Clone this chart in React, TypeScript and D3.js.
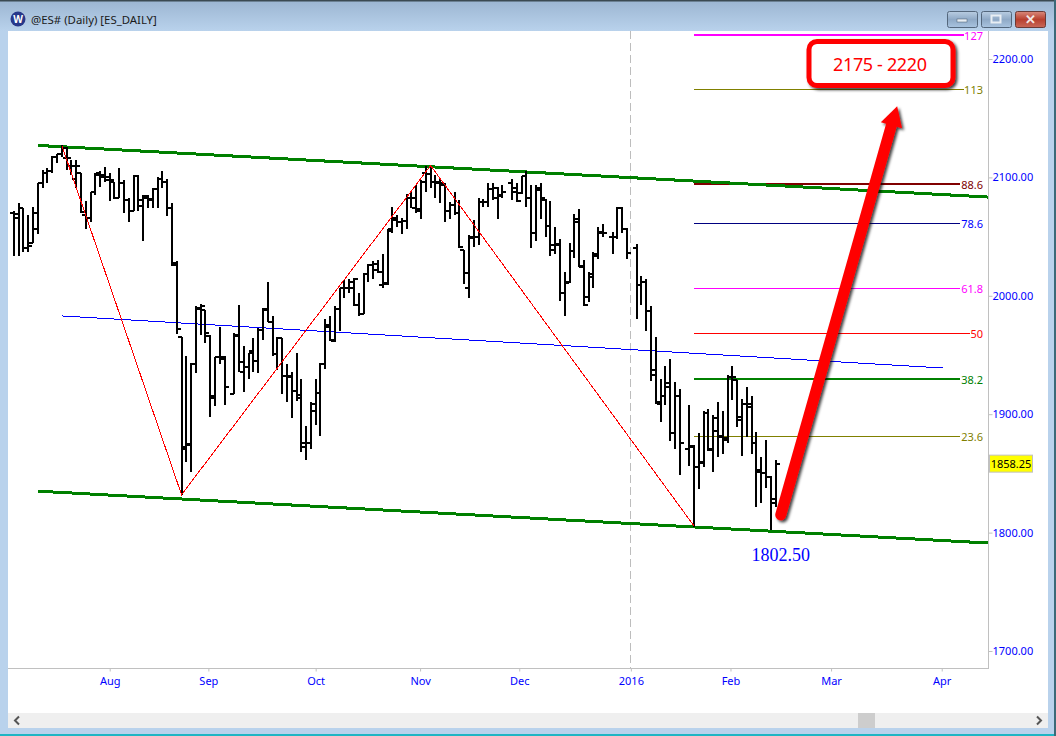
import React, { useRef, useEffect } from 'react';
import * as d3 from 'd3';

// daily ES bars, one slot per session, null = no session (holiday)
const opens = [
  2070,2069,2074,2040,2045,2056,2095,2104,2105,2117,
  2120,2116,2110,2099,2104,2068,2066,2088,2104,2100,
  2098,2096,2083,2095,2081,2072,2101,2081,2083,2082,
  2090,2099,2096,2074,2026,1965,1872,1875,1942,1990,
  1988,1966,1914,1948,1948,null,
  1917,1967,1936,1940,
  1953,1945,1971,1988,1978,1951,1964,1932,1932,1920,
  1916,1876,1876,1903,1918,1942,1974,1962,1989,2007,
  2007,2012,1992,1985,2018,2026,2022,2009,2011,2056,
  2064,2062,2063,2083,2074,2072,2104,2103,2096,2096,
  2094,2072,2077,2070,2039,2007,2049,2050,2079,2079,
  2090,2083,2085,null,
  2095,2088,2087,2101,2083,2053,2091,2081,2059,2039,2044,2002,2012,2038,2062,2025,1999,2018,2034,2053,null,
  2050,2050,2074,2056,null,
  2040,2009,2012,1987,1933,1909,1915,1923,1884,1915,null,
  1871,1872,1855,1859,1901,1871,1886,1882,1878,1931,1929,1895,1909,1906,1876,1851,1850,1847,1828,
];
const highs = [
  2072,2078,2074,2068,2075,2095,2106,2108,2118,2120,
  2127,2126,2115,2115,2104,2080,2088,2104,2105,2109,
  2104,2096,2108,2098,2083,2102,2102,2085,2085,2091,
  2100,2105,2099,2078,2029,1965,1949,1943,1991,1993,
  1988,1967,1948,1974,1949,null,
  1969,1992,1958,1952,
  1964,1973,1990,2012,1983,1965,1964,1942,1936,1952,
  1930,1890,1910,1930,1943,1980,1983,1991,2007,2013,
  2014,2015,2002,2019,2027,2029,2030,2035,2056,2075,
  2068,2066,2086,2088,2094,2098,2110,2110,2102,2099,
  2095,2079,2088,2081,2039,2051,2064,2083,2082,2095,
  2095,2092,2094,null,
  2099,2095,2101,2105,2094,2094,2095,2082,2080,2058,2048,2020,2045,2069,2073,2030,2020,2037,2058,2061,null,
  2054,2075,2075,2057,null,
  2044,2017,2014,1991,1965,1930,1941,1947,1927,1921,null,
  1908,1874,1884,1903,1904,1899,1910,1903,1933,1941,1929,1913,1923,1915,1885,1864,1878,1848,1861,
];
const lows = [
  2034,2034,2037,2037,2045,2052,2091,2095,2104,2112,
  2117,2106,2102,2091,2070,2056,2062,2085,2092,2096,
  2080,2082,2083,2070,2062,2072,2072,2046,2074,2074,
  2074,2091,2067,2025,1968,1832,1860,1851,1935,1967,
  1960,1898,1907,1942,1908,null,
  1917,1936,1919,1930,
  1936,1935,1963,1978,1949,1937,1917,1910,1897,1911,
  1868,1861,1871,1891,1882,1938,1962,1961,1970,1998,
  2002,1991,1983,1985,2012,2014,2019,2007,2009,2053,
  2058,2052,2056,2074,2070,2065,2088,2091,2083,2078,
  2062,2065,2068,2040,2010,1998,2041,2043,2075,2075,
  2081,2065,2083,null,
  2081,2079,2086,2075,2040,2046,2065,2050,2034,2035,1996,1983,2011,2032,2024,1991,1995,2007,2031,2050,null,
  2035,2048,2053,2031,null,
  1980,1992,1970,1928,1909,1893,1908,1877,1871,1849,null,
  1856,1805,1837,1855,1869,1851,1864,1866,1876,1912,1889,1865,1881,1866,1822,1825,1838,1802.5,1822,
];
const closes = [
  2066,2074,2040,2042,2070,2095,2104,2105,2117,2120,
  2125,2116,2110,2110,2071,2066,2088,2102,2102,2100,
  2098,2083,2095,2081,2072,2101,2076,2084,2081,2090,
  2099,2096,2074,2028,1972,1871,1874,1942,1989,1991,
  1969,1915,1948,1947,1923,null,
  1966,1944,1940,1952,
  1945,1971,1989,1978,1951,1964,1932,1931,1920,1914,
  1872,1876,1909,1918,1942,1975,1963,1989,2007,2007,
  2007,2014,1985,2018,2026,2027,2020,2010,2055,2066,
  2062,2063,2083,2083,2073,2096,2103,2096,2095,2095,
  2072,2077,2070,2041,2019,2050,2050,2079,2079,2090,
  2091,2084,2088,null,
  2091,2080,2101,2083,2053,2089,2083,2059,2043,2043,2002,2011,2038,2065,2024,1992,2016,2035,2054,2053,null,
  2050,2074,2056,2036,null,
  2009,2012,1987,1937,1910,1915,1926,1884,1915,1876,null,
  1873,1855,1860,1901,1870,1897,1881,1880,1931,1931,1898,1909,1909,1876,1853,1850,1847,1825,1858.25,
];

const priceTicks = [1700, 1800, 1900, 2000, 2100, 2200];
const monthSlots = [20, 40.6, 63, 84.8, 105.5, 128.8, 149.6, 170.6, 193.7];
const monthLabels = ['Aug', 'Sep', 'Oct', 'Nov', 'Dec', '2016', 'Feb', 'Mar', 'Apr'];
const yearSlot = 128.8;
const lastPrice = 1858.25;
const lowPrice = 1802.5;

// fib levels: label, price, colour, line weight
const fibLabels = ['127', '113', '88.6', '78.6', '61.8', '50', '38.2', '23.6'];
const fibPrices = [2220, 2175, 2094.4, 2061.5, 2006.6, 1968.6, 1929.7, 1881.6];
const fibColors = ['#ff00ff', '#808000', '#800000', '#000080', '#ff00ff', '#ff0000', '#008000', '#808000'];
const fibLabelColors = ['#ff00ff', '#808000', '#800000', '#0000ff', '#ff00ff', '#ff0000', '#008000', '#808000'];
const fibWeights = [2, 1, 2, 1, 1, 1, 2, 1];
const fibStartSlot = 142;

// trendlines as [slot, price] pairs
const upperChannel = [[5, 2127], [203.4, 2083.4]];
const lowerChannel = [[5, 1835], [203.4, 1791.2]];
const midLine = [[10, 1983], [194, 1939]];
const zigzag = [[10, 2127], [35, 1832], [87, 2110], [142, 1805.5]];
const targetArrow = [[160.1, 1815], [183.2, 2144]];
const arrowTip = [184.4, 2160];

const W = 1056;
const H = 736;

export default function App() {
  const svgRef = useRef<SVGSVGElement>(null);

  useEffect(() => {
    const svg = d3.select(svgRef.current);
    svg.selectAll('*').remove();

    const x = d3.scaleLinear().domain([0, 159]).range([13.9, 775.5]);
    const y = d3.scaleLinear().domain([1700, 2200]).range([651, 59]);
    const uiFont = '"Noto Sans", sans-serif';

    const defs = svg.append('defs');
    const titleGrad = defs.append('linearGradient').attr('id', 'title-grad')
      .attr('x1', 0).attr('y1', 0).attr('x2', 0).attr('y2', 1);
    titleGrad.append('stop').attr('offset', '0%').attr('stop-color', '#9bb5d1');
    titleGrad.append('stop').attr('offset', '100%').attr('stop-color', '#b9d2ec');
    const btnGrad = defs.append('linearGradient').attr('id', 'btn-grad')
      .attr('x1', 0).attr('y1', 0).attr('x2', 0).attr('y2', 1);
    btnGrad.append('stop').attr('offset', '0%').attr('stop-color', '#b9cde2');
    btnGrad.append('stop').attr('offset', '50%').attr('stop-color', '#8fa9c6');
    btnGrad.append('stop').attr('offset', '100%').attr('stop-color', '#a9c4e0');
    const closeGrad = defs.append('linearGradient').attr('id', 'close-grad')
      .attr('x1', 0).attr('y1', 0).attr('x2', 0).attr('y2', 1);
    closeGrad.append('stop').attr('offset', '0%').attr('stop-color', '#d98a7c');
    closeGrad.append('stop').attr('offset', '50%').attr('stop-color', '#b8402f');
    closeGrad.append('stop').attr('offset', '100%').attr('stop-color', '#c9695a');
    const shadow = defs.append('filter').attr('id', 'soft-shadow')
      .attr('x', '-20%').attr('y', '-20%').attr('width', '140%').attr('height', '140%');
    shadow.append('feDropShadow').attr('dx', 2).attr('dy', 2).attr('stdDeviation', 1.5)
      .attr('flood-color', '#000').attr('flood-opacity', 0.75);

    // window chrome
    svg.append('rect').attr('width', W).attr('height', H).attr('fill', '#b9d2ec');
    svg.append('rect').attr('width', W).attr('height', 31).attr('fill', 'url(#title-grad)');
    svg.append('rect').attr('width', W).attr('height', 1.5).attr('fill', '#3b4a52');
    svg.append('rect').attr('y', 734).attr('width', W).attr('height', 2).attr('fill', '#1fb5c4');
    svg.append('rect').attr('x', 1054).attr('width', 2).attr('height', H).attr('fill', '#3b6a78');
    svg.append('rect').attr('x', 8).attr('y', 31).attr('width', 1040).attr('height', 682).attr('fill', '#fff');

    svg.append('circle').attr('cx', 18).attr('cy', 19).attr('r', 7.5).attr('fill', '#27378a');
    svg.append('text').attr('x', 18).attr('y', 22.5).attr('text-anchor', 'middle')
      .attr('font-family', uiFont).attr('font-size', 10).attr('font-weight', 700)
      .attr('fill', '#fff').text('W');
    svg.append('text').attr('x', 31).attr('y', 24).attr('font-family', uiFont)
      .attr('font-size', 11.4).attr('fill', '#1a1a1a').text('@ES# (Daily) [ES_DAILY]');

    [947, 981].forEach(bx => {
      svg.append('rect').attr('x', bx + 0.5).attr('y', 11.5).attr('width', 30).attr('height', 16).attr('rx', 2)
        .attr('fill', 'url(#btn-grad)').attr('stroke', '#54677c');
    });
    svg.append('rect').attr('x', 1015.5).attr('y', 11.5).attr('width', 30).attr('height', 16).attr('rx', 2)
      .attr('fill', 'url(#close-grad)').attr('stroke', '#6b3a36');
    svg.append('rect').attr('x', 957).attr('y', 19).attr('width', 10).attr('height', 3).attr('fill', '#e8eef4').attr('stroke', '#46586c').attr('stroke-width', 0.5);
    svg.append('rect').attr('x', 991.5).attr('y', 15.5).attr('width', 9).attr('height', 7).attr('fill', 'none').attr('stroke', '#e8eef4').attr('stroke-width', 2);
    svg.append('text').attr('x', 1030).attr('y', 24).attr('text-anchor', 'middle').attr('font-family', uiFont)
      .attr('font-size', 13).attr('font-weight', 700).attr('fill', '#f3e8e6').text('✕');

    // scrollbar
    svg.append('rect').attr('x', 8).attr('y', 713).attr('width', 1040).attr('height', 15).attr('fill', '#efefef');
    svg.append('rect').attr('x', 858).attr('y', 713).attr('width', 17).attr('height', 15).attr('fill', '#cdcdcd');
    svg.append('path').attr('d', 'M19,716.5 L15,720.5 L19,724.5').attr('fill', 'none').attr('stroke', '#555').attr('stroke-width', 2);
    svg.append('path').attr('d', 'M1037,716.5 L1041,720.5 L1037,724.5').attr('fill', 'none').attr('stroke', '#555').attr('stroke-width', 2);

    // plot frame
    const frame = svg.append('g').attr('stroke', '#c0c0c0').attr('shape-rendering', 'crispEdges');
    frame.append('line').attr('x1', 988.5).attr('x2', 988.5).attr('y1', 31).attr('y2', 668.5);
    frame.append('line').attr('x1', 8).attr('x2', 988.5).attr('y1', 668.5).attr('y2', 668.5);
    svg.append('line').attr('x1', x(yearSlot)).attr('x2', x(yearSlot)).attr('y1', 31).attr('y2', 668)
      .attr('stroke', '#bdbdbd').attr('stroke-dasharray', '8,4').attr('shape-rendering', 'crispEdges');

    // axes
    const yAxis = svg.append('g').attr('transform', 'translate(988.5,0)')
      .call(d3.axisRight(y).tickValues(priceTicks).tickSize(4).tickPadding(0).tickFormat(d3.format('.2f') as any));
    yAxis.select('.domain').remove();
    yAxis.selectAll('line').attr('stroke', '#c0c0c0');
    yAxis.selectAll('text').attr('fill', '#0000ff').attr('font-family', uiFont).attr('font-size', 11);

    const xAxis = svg.append('g').attr('transform', 'translate(0,668.5)')
      .call(d3.axisBottom(x).tickValues(monthSlots).tickSize(3).tickPadding(6)
        .tickFormat((_, i) => monthLabels[i]));
    xAxis.select('.domain').remove();
    xAxis.selectAll('line').attr('stroke', '#c0c0c0');
    xAxis.selectAll('text').attr('fill', '#0000ff').attr('font-family', uiFont).attr('font-size', 11);

    // fib levels
    const fib = svg.append('g');
    fibLabels.forEach((label, i) => {
      const endX = 983 - label.length * 6 - (label.includes('.') ? -1 : 1);
      fib.append('line').attr('x1', x(fibStartSlot)).attr('x2', endX)
        .attr('y1', Math.round(y(fibPrices[i]))).attr('y2', Math.round(y(fibPrices[i])))
        .attr('stroke', fibColors[i]).attr('stroke-width', fibWeights[i]).attr('shape-rendering', 'crispEdges');
      fib.append('text').attr('x', 983).attr('y', Math.round(y(fibPrices[i])) + 5).attr('text-anchor', 'end')
        .attr('font-family', uiFont).attr('font-size', 11).attr('fill', fibLabelColors[i]).text(label);
    });

    const line = d3.line<number[]>().x(d => x(d[0])).y(d => y(d[1]));

    // channel and mid line, aliased like the platform draws them
    const trends = svg.append('g').attr('fill', 'none').attr('shape-rendering', 'crispEdges');
    trends.append('path').attr('d', line(upperChannel)).attr('stroke', '#008000').attr('stroke-width', 3);
    trends.append('path').attr('d', line(lowerChannel)).attr('stroke', '#008000').attr('stroke-width', 3);
    trends.append('path').attr('d', line(midLine)).attr('stroke', '#0000ff').attr('stroke-width', 1);

    // OHLC bars
    const bars = svg.append('g').attr('stroke', '#000').attr('stroke-width', 2).attr('shape-rendering', 'crispEdges');
    highs.forEach((hi, i) => {
      if (hi === null) return;
      const cx = Math.round(x(i));
      const oy = Math.round(y(opens[i] as number));
      const cy = Math.round(y(closes[i] as number));
      bars.append('line').attr('x1', cx).attr('x2', cx).attr('y1', Math.round(y(hi))).attr('y2', Math.round(y(lows[i] as number)));
      bars.append('line').attr('x1', cx - 4).attr('x2', cx).attr('y1', oy).attr('y2', oy);
      bars.append('line').attr('x1', cx).attr('x2', cx + 4).attr('y1', cy).attr('y2', cy);
    });

    svg.append('path').attr('d', line(zigzag)).attr('fill', 'none').attr('stroke', '#ff0000').attr('stroke-width', 1).attr('shape-rendering', 'crispEdges');

    // last price box
    svg.append('rect').attr('x', 989.5).attr('y', y(lastPrice) - 8.5).attr('width', 43).attr('height', 17)
      .attr('fill', '#ffff00').attr('stroke', '#c0c0c0');
    svg.append('text').attr('x', 1011).attr('y', y(lastPrice) + 4).attr('text-anchor', 'middle')
      .attr('font-family', uiFont).attr('font-size', 11).attr('fill', '#000').text(d3.format('.2f')(lastPrice));

    svg.append('text').attr('x', x(160.1)).attr('y', 561).attr('text-anchor', 'middle')
      .attr('font-family', '"Liberation Serif", serif').attr('font-size', 18).attr('fill', '#0000ff')
      .text(d3.format('.2f')(lowPrice));

    // target arrow
    const ax0 = x(targetArrow[0][0]);
    const ay0 = y(targetArrow[0][1]);
    const ax1 = x(targetArrow[1][0]);
    const ay1 = y(targetArrow[1][1]);
    const tx = x(arrowTip[0]);
    const ty = y(arrowTip[1]);
    const len = Math.hypot(tx - ax0, ty - ay0);
    const ux = (tx - ax0) / len;
    const uy = (ty - ay0) / len;
    const arrow = svg.append('g').attr('filter', 'url(#soft-shadow)');
    arrow.append('path').attr('d', `M${ax0},${ay0} L${ax1},${ay1}`).attr('stroke', '#ff0000')
      .attr('stroke-width', 11).attr('stroke-linecap', 'round').attr('fill', 'none');
    arrow.append('path')
      .attr('d', `M${tx},${ty} L${ax1 - uy * 11},${ay1 + ux * 11} L${ax1 + uy * 11},${ay1 - ux * 11} Z`)
      .attr('fill', '#ff0000');

    // target callout
    svg.append('rect').attr('x', 809).attr('y', 41.5).attr('width', 144).attr('height', 44).attr('rx', 8)
      .attr('fill', '#fff').attr('stroke', '#ff0000').attr('stroke-width', 5).attr('filter', 'url(#soft-shadow)');
    svg.append('text').attr('x', 880).attr('y', 71).attr('text-anchor', 'middle')
      .attr('font-family', uiFont).attr('font-size', 18).attr('textLength', 94).attr('lengthAdjust', 'spacing')
      .attr('fill', '#ff0000').text('2175 - 2220');
  }, []);

  return (
    <svg ref={svgRef} width={W} height={H} style={{ position: 'absolute', left: 0, top: 0 }} />
  );
}
